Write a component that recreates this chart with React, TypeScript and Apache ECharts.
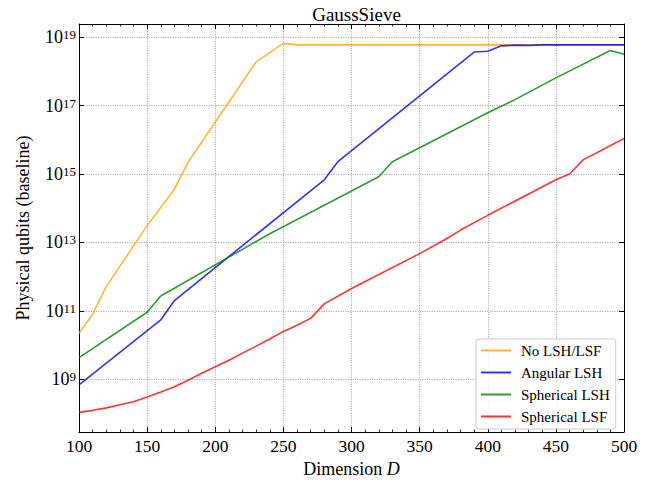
import React, { useEffect, useRef } from "react";
import * as echarts from "echarts";

const seriesNames = ["No LSH/LSF", "Angular LSH", "Spherical LSH", "Spherical LSF"];
const seriesColors = ["#FFA500", "#0000FF", "#008000", "#FF0000"];

const noLshD = [100, 110, 120, 150, 170, 180, 230, 250, 260, 500];
const noLshQ = [2.2e10, 7.9e10, 5.1e11, 3.1e13, 3.6e14, 2.2e15, 1.9e18, 6.6e18, 6.0e18, 6.0e18];

const angularD = [100, 160, 170, 280, 290, 390, 400, 410, 420, 430, 440, 500];
const angularQ = [6.8e8, 5.4e10, 2.0e11, 6.8e14, 2.3e15, 3.7e18, 3.9e18, 5.6e18, 5.9e18, 5.8e18, 6.0e18, 6.0e18];

const sphLshD = [100, 150, 160, 240, 320, 330, 400, 420, 450, 490, 500];
const sphLshQ = [4.3e9, 9.1e10, 2.7e11, 1.8e13, 8.3e14, 2.3e15, 6.2e16, 1.5e17, 6.5e17, 4.1e18, 3.2e18];

const sphLsfD = [100, 110, 120, 130, 140, 150, 160, 170, 180, 190, 200, 210, 220, 230, 240, 250, 260, 270, 280, 300, 350, 370, 380, 400, 450, 460, 470, 500];
const sphLsfQ = [1.07e8, 1.23e8, 1.45e8, 1.8e8, 2.2e8, 3.0e8, 4.2e8, 6.0e8, 9.3e8, 1.5e9, 2.3e9, 3.6e9, 5.8e9, 9.3e9, 1.5e10, 2.5e10, 3.8e10, 6.0e10, 1.6e11, 4.5e11, 4.7e12, 1.3e13, 2.3e13, 6.2e13, 6.8e14, 1.0e15, 2.6e15, 1.1e16];

const yTickValues = [1e9, 1e11, 1e13, 1e15, 1e17, 1e19];
const xMin = 100;
const xMax = 500;
const xStep = 50;
const yMin = 2.86e7;
const yMax = 2.44e19;

const FONT = "Liberation Serif";

function pairs(xs: number[], ys: number[]) {
  return xs.map((x, i) => [x, ys[i]]);
}

export default function App() {
  const ref = useRef<HTMLDivElement>(null);
  useEffect(() => {
    if (!ref.current) return;
    const chart = echarts.init(ref.current, null, { renderer: "svg" });
    const gridLine = { show: true, lineStyle: { color: "#b0b0b0", type: [1.2, 1.2], width: 1 } };
    const frameLine = { show: true, onZero: false, lineStyle: { color: "#000", width: 1 } };
    const xCommon = {
      type: "value",
      min: xMin,
      max: xMax,
      interval: xStep,
      axisLine: frameLine,
      axisTick: { show: true, inside: true, length: 5, lineStyle: { color: "#000", width: 1 } },
      minorTick: { show: true, splitNumber: 5, length: 2.5, lineStyle: { color: "#000", width: 0.8 } },
    };
    const yCommon = {
      type: "log",
      logBase: 10,
      min: yMin,
      max: yMax,
      axisLine: frameLine,
      axisTick: { show: true, inside: true, length: 5, customValues: yTickValues, lineStyle: { color: "#000", width: 1 } },
    };
    const lists = [
      [noLshD, noLshQ],
      [angularD, angularQ],
      [sphLshD, sphLshQ],
      [sphLsfD, sphLsfQ],
    ];
    chart.setOption({
      animation: false,
      backgroundColor: "#fff",
      title: {
        text: "GaussSieve",
        left: 351.5,
        top: 0,
        textAlign: "center",
        textStyle: { fontFamily: FONT, fontSize: 19, fontWeight: "normal", color: "#000" },
      },
      grid: { left: 79, right: 29, top: 24, bottom: 52, containLabel: false },
      legend: {
        orient: "vertical",
        left: 476,
        top: 339,
        padding: [4, 6, 5, 4],
        itemWidth: 30,
        itemHeight: 14,
        itemGap: 7,
        itemStyle: { opacity: 0, borderWidth: 0 },
        backgroundColor: "rgba(255,255,255,0.85)",
        borderColor: "#cccccc",
        borderWidth: 1,
        borderRadius: 3,
        textStyle: { fontFamily: FONT, fontSize: 15, color: "#000", padding: [0, 0, 0, 5] },
        data: seriesNames,
      },
      xAxis: [
        {
          ...xCommon,
          position: "bottom",
          splitLine: gridLine,
          axisLabel: { fontFamily: FONT, fontSize: 17.5, color: "#000", margin: 5 },
          name: "{n|Dimension }{i|D}",
          nameLocation: "middle",
          nameGap: 23,
          nameTextStyle: {
            color: "#000",
            rich: {
              n: { fontFamily: FONT, fontSize: 18, color: "#000" },
              i: { fontFamily: FONT, fontSize: 18, fontStyle: "italic", color: "#000" },
            },
          },
        },
        {
          ...xCommon,
          position: "top",
          splitLine: { show: false },
          axisLabel: { show: false },
        },
      ],
      yAxis: [
        {
          ...yCommon,
          position: "left",
          splitLine: gridLine,
          minorTick: { show: false },
          axisLabel: {
            customValues: yTickValues,
            margin: 3,
            formatter: (v: number) => `{b|10}{s|${Math.round(Math.log10(v))}}`,
            rich: {
              b: { fontFamily: FONT, fontSize: 18, lineHeight: 18, verticalAlign: "bottom", color: "#000" },
              s: { fontFamily: FONT, fontSize: 13, lineHeight: 13, padding: [0, 0, 10, 0], verticalAlign: "top", color: "#000" },
            },
          },
          name: "Physical qubits (baseline)",
          nameLocation: "middle",
          nameGap: 47,
          nameTextStyle: { fontFamily: FONT, fontSize: 18, color: "#000" },
        },
        {
          ...yCommon,
          position: "right",
          splitLine: { show: false },
          axisLabel: { show: false },
        },
      ],
      series: lists.map((l, i) => ({
        name: seriesNames[i],
        type: "line",
        xAxisIndex: 0,
        yAxisIndex: 0,
        symbol: "none",
        data: pairs(l[0], l[1]),
        lineStyle: { color: seriesColors[i], width: 1.6, opacity: 0.8 },
        itemStyle: { color: seriesColors[i], opacity: 0.8 },
        z: 2 + i,
      })),
    });
    return () => chart.dispose();
  }, []);
  return <div ref={ref} style={{ position: "fixed", left: 0, top: 0, width: 653, height: 484 }} />;
}
